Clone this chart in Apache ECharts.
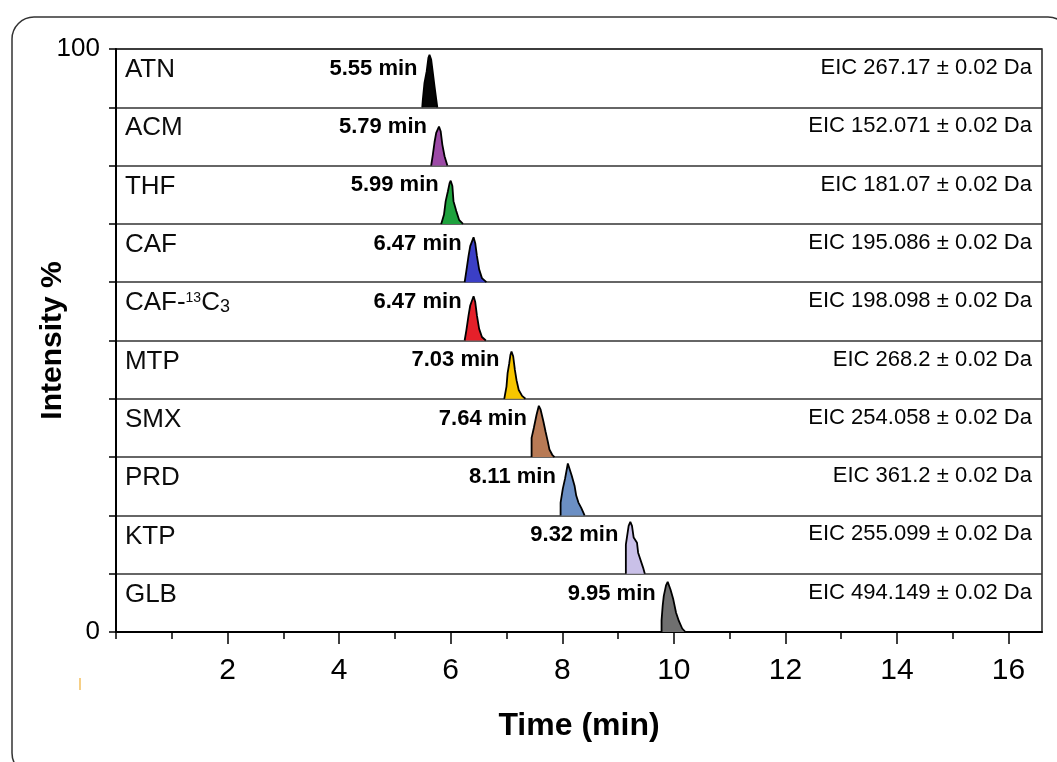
<!DOCTYPE html>
<html><head><meta charset="utf-8">
<script src="https://cdn.jsdelivr.net/npm/echarts@6/dist/echarts.min.js"></script>
<style>html,body{margin:0;padding:0;background:#fff}#c{width:1057px;height:762px}</style>
</head><body><div id="c"></div>
<script>
// ---- data ----
const compounds = ['ATN','ACM','THF','CAF','CAF-¹³C₃','MTP','SMX','PRD','KTP','GLB'];
const rtLabels = ['5.55 min','5.79 min','5.99 min','6.47 min','6.47 min','7.03 min','7.64 min','8.11 min','9.32 min','9.95 min'];
const eicLabels = ['EIC 267.17 ± 0.02 Da','EIC 152.071 ± 0.02 Da','EIC 181.07 ± 0.02 Da','EIC 195.086 ± 0.02 Da','EIC 198.098 ± 0.02 Da','EIC 268.2 ± 0.02 Da','EIC 254.058 ± 0.02 Da','EIC 361.2 ± 0.02 Da','EIC 255.099 ± 0.02 Da','EIC 494.149 ± 0.02 Da'];
const peakColors = ['#050505','#9c4aa6','#1fa23e','#3b3fc6','#e5202a','#f7c600','#b87a55','#6b8fc4','#c9c0e8','#707070'];
// peak traces: [time (min), intensity % of the panel]
const peakATN = [[5.49,0],[5.50,13],[5.53,42],[5.57,62],[5.60,85],[5.62,90],[5.65,82],[5.68,59],[5.71,36],[5.74,14],[5.76,0]];
const peakACM = [[5.65,0],[5.68,19],[5.71,40],[5.74,56],[5.79,67],[5.82,59],[5.85,36],[5.89,16],[5.94,0]];
const peakTHF = [[5.83,0],[5.88,16],[5.91,39],[5.95,56],[5.98,70],[6.00,74],[6.03,65],[6.05,39],[6.10,22],[6.15,7],[6.22,0]];
const peakCAF = [[6.25,0],[6.28,19],[6.32,45],[6.35,62],[6.41,77],[6.44,67],[6.47,45],[6.51,22],[6.56,7],[6.64,0]];
const peakCAF13 = [[6.25,0],[6.28,17],[6.32,43],[6.35,60],[6.41,76],[6.44,66],[6.47,43],[6.51,20],[6.56,6],[6.63,0]];
const peakMTP = [[6.96,0],[7.00,21],[7.02,44],[7.05,61],[7.07,75],[7.09,81],[7.12,73],[7.15,50],[7.18,32],[7.22,15],[7.28,5],[7.34,0]];
const peakSMX = [[7.45,0],[7.45,33],[7.49,50],[7.54,73],[7.58,88],[7.61,82],[7.66,62],[7.70,44],[7.74,27],[7.77,13],[7.82,4],[7.86,0]];
const peakPRD = [[7.97,0],[7.97,22],[8.01,46],[8.05,63],[8.10,89],[8.13,80],[8.17,68],[8.22,51],[8.25,34],[8.29,22],[8.34,13],[8.40,0]];
const peakKTP = [[9.14,0],[9.14,50],[9.19,82],[9.22,89],[9.25,82],[9.28,62],[9.34,53],[9.36,36],[9.45,10],[9.48,0]];
const peakGLB = [[9.78,0],[9.78,20],[9.80,45],[9.82,62],[9.86,80],[9.89,86],[9.94,73],[9.99,56],[10.04,33],[10.09,19],[10.15,6],[10.21,0]];
const peaks = [peakATN,peakACM,peakTHF,peakCAF,peakCAF13,peakMTP,peakSMX,peakPRD,peakKTP,peakGLB];
const xMajorTicks = [2,4,6,8,10,12,14,16];
const xMinorTicks = [0,1,3,5,7,9,11,13,15];
const xTickLabels = [2,4,6,8,10,12,14,16];
const yTickLabels = [0,100];

// ---- chart ----
const FONT = "'Liberation Sans', Arial, sans-serif";
const chart = echarts.init(document.getElementById('c'), null, {renderer:'canvas'});
const PANEL = 10, XMAX = 16.6;
const series = [];
peaks.forEach((pk, i) => {
  const base = 100 - PANEL * (i + 1);
  series.push({
    type:'line', xAxisIndex:0, yAxisIndex:0, silent:true, symbol:'none', z:3,
    data: pk.map(p => [p[0], base + p[1] * PANEL / 100]),
    lineStyle:{color:'#000', width:1.8},
    areaStyle:{color:peakColors[i], opacity:1, origin:base}
  });
});
const apexTimes = peaks.map(pk => pk.reduce((a,b) => b[1] > a[1] ? b : a)[0]);
const labelSeriesBase = {type:'scatter', symbolSize:0, silent:true, z:5, itemStyle:{opacity:1}};
// compound names
series.push(Object.assign({}, labelSeriesBase, {
  data: compounds.map((n,i) => ({value:[0.16, 100 - PANEL*i - 3.6], name:n})),
  label:{show:true, opacity:1, position:'right', distance:0, fontFamily:FONT, fontSize:26, color:'#0c0c0c', lineHeight:30,
    formatter: p => p.name.replace('¹³','{sup|13}').replace('₃','{sub|3}'),
    rich:{sup:{fontSize:14, lineHeight:14, verticalAlign:'top', padding:[3,0,0,0], fontFamily:FONT, color:'#0c0c0c'},
          sub:{fontSize:18, lineHeight:18, verticalAlign:'bottom', padding:[0,0,2,0], fontFamily:FONT, color:'#0c0c0c'}}}
}));
// retention time labels
series.push(Object.assign({}, labelSeriesBase, {
  data: rtLabels.map((t,i) => ({value:[apexTimes[i], 100 - PANEL*i - 3.4], name:t})),
  label:{show:true, opacity:1, position:'left', distance:12, fontFamily:FONT, fontSize:22, fontWeight:'bold', color:'#000', formatter:p => p.name}
}));
// EIC labels
series.push(Object.assign({}, labelSeriesBase, {
  data: eicLabels.map((t,i) => ({value:[16.42, 100 - PANEL*i - 3.25], name:t})),
  label:{show:true, opacity:1, position:'left', distance:0, fontFamily:FONT, fontSize:22, color:'#050505', formatter:p => p.name}
}));

chart.setOption({
  animation:false,
  backgroundColor:'#fff',
  grid:{left:116, top:49, width:926, height:583, show:true, borderColor:'#222', borderWidth:1.5, backgroundColor:'transparent', containLabel:false, outerBoundsMode:'none'},
  xAxis:[{
    type:'value', min:0, max:XMAX, position:'bottom',
    axisLine:{show:true, onZero:false, lineStyle:{color:'#000', width:2}},
    axisTick:{show:true, length:12, customValues:xMajorTicks, lineStyle:{color:'#000', width:1.5}},
    axisLabel:{show:true, customValues:xTickLabels, fontSize:30, color:'#000', margin:24, fontFamily:FONT},
    splitLine:{show:false},
    name:'Time (min)', nameLocation:'middle', nameGap:78, nameMoveOverlap:false,
    nameTextStyle:{fontSize:32, fontWeight:'bold', color:'#000', fontFamily:FONT}
  },{
    type:'value', min:0, max:XMAX, position:'bottom',
    axisLine:{show:false, onZero:false},
    axisTick:{show:true, length:7, customValues:xMinorTicks, lineStyle:{color:'#000', width:1.5}},
    axisLabel:{show:false}, splitLine:{show:false}
  }],
  yAxis:{
    type:'value', min:0, max:100, interval:10,
    axisLine:{show:true, lineStyle:{color:'#000', width:2}},
    axisTick:{show:true, length:7, lineStyle:{color:'#000', width:1.5}},
    axisLabel:{show:true, fontSize:26, color:'#000', margin:16, fontFamily:FONT,
      formatter: v => yTickLabels.includes(v) ? String(v) : ''},
    splitLine:{show:true, lineStyle:{color:'#333', width:1.5}},
    name:'Intensity %', nameLocation:'middle', nameGap:48, nameRotate:90, nameMoveOverlap:false,
    nameTextStyle:{fontSize:30, fontWeight:'bold', color:'#000', fontFamily:FONT}
  },
  graphic:[
    {type:'rect', silent:true, z:-1, shape:{x:12, y:17, width:1058, height:758, r:22}, style:{fill:null, stroke:'#333', lineWidth:1.5}},
    {type:'line', silent:true, shape:{x1:80, y1:678, x2:80, y2:690}, style:{stroke:'#f6cf86', lineWidth:2}}
  ],
  series
});
</script></body></html>
